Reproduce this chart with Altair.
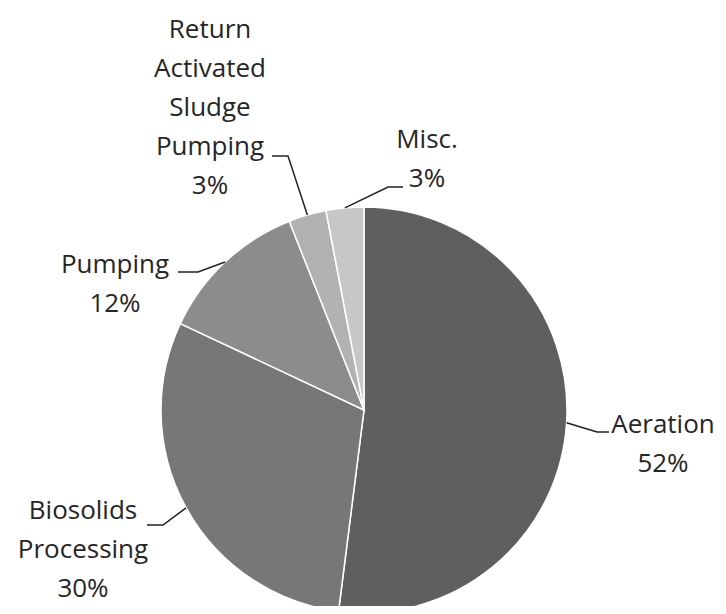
import math
import altair as alt
import pandas as pd

# ---- data ----
categories = ["Aeration", "Biosolids Processing", "Pumping",
              "Return Activated Sludge Pumping", "Misc."]
label_text = ["Aeration\n52%", "Biosolids\nProcessing\n30%", "Pumping\n12%",
              "Return\nActivated\nSludge\nPumping\n3%", "Misc.\n3%"]
values = [52, 30, 12, 3, 3]
colors = ["#5f5f5f", "#777777", "#8c8c8c", "#b2b2b2", "#c7c7c7"]

# ---- layout (chart pixel coords; page minus 8px margin) ----
M = 8
CX, CY, R = 364 - M, 410 - M, 203
# label anchor: (center x, first-line baseline y)
label_pos = {
    "Aeration": (663, 433),
    "Biosolids Processing": (83, 519),
    "Pumping": (115, 273),
    "Return Activated Sludge Pumping": (210, 38),
    "Misc.": (427, 148),
}
# leader line: label end point, elbow point
leader_pts = {
    "Aeration": [(609, 432), (597, 432)],
    "Biosolids Processing": [(147, 525), (163, 525)],
    "Pumping": [(178, 272), (198, 272)],
    "Return Activated Sludge Pumping": [(272, 156), (288, 156)],
    "Misc.": [(403, 187), (388, 187)],
}

df = pd.DataFrame({"category": categories, "value": values,
                   "order": list(range(len(categories))), "label": label_text})

# compute pie-side anchors from the data
total = sum(values)
cum = 0
line_rows = []
text_rows = []
for cat, v, lab in zip(categories, values, label_text):
    mid = (cum + v / 2) / total * 2 * math.pi
    cum += v
    ax = CX + R * math.sin(mid)
    ay = CY - R * math.cos(mid)
    p1, p2 = leader_pts[cat]
    line_rows.append({"category": cat, "k": 0, "x": p1[0] - M, "y": p1[1] - M})
    line_rows.append({"category": cat, "k": 1, "x": p2[0] - M, "y": p2[1] - M})
    line_rows.append({"category": cat, "k": 2, "x": ax, "y": ay})
    lx, ly = label_pos[cat]
    text_rows.append({"category": cat, "label": lab, "x": lx - M, "y": ly - M})

lines_df = pd.DataFrame(line_rows)
text_df = pd.DataFrame(text_rows)

pie = alt.Chart(df).mark_arc(outerRadius=R, stroke="white", strokeWidth=1.5).encode(
    theta=alt.Theta("value:Q", stack=True),
    color=alt.Color("category:N", scale=alt.Scale(domain=categories, range=colors), legend=None),
    order=alt.Order("order:Q"),
    x=alt.value(CX),
    y=alt.value(CY),
)

leaders = alt.Chart(lines_df).mark_line(color="#222222", strokeWidth=1.5).encode(
    x=alt.X("x:Q", scale=None),
    y=alt.Y("y:Q", scale=None),
    detail="category:N",
    order="k:Q",
)

labels = alt.Chart(text_df).mark_text(
    font="Open Sans", fontSize=26, color="#262626", align="center",
    baseline="alphabetic", lineBreak="\n", lineHeight=39,
).encode(
    x=alt.X("x:Q", scale=None),
    y=alt.Y("y:Q", scale=None),
    text="label:N",
)

chart = alt.layer(pie, leaders, labels).properties(
    width=710, height=598, autosize=alt.AutoSizeParams(type="none"), padding=0
).configure_view(stroke=None)

chart.save("out.html", embed_options={"renderer": "svg", "actions": False})
